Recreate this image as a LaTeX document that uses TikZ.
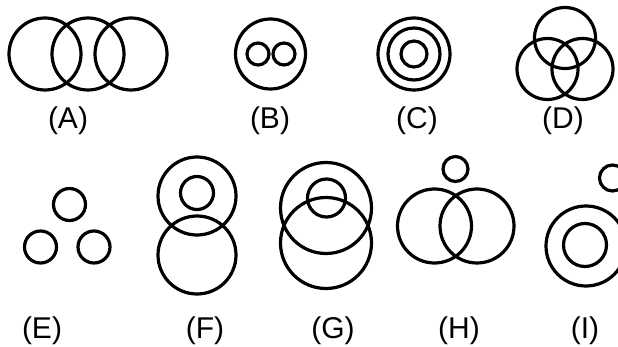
\documentclass[tikz,border=0pt]{standalone}
\usepackage{fontspec}
\setmainfont{Liberation Sans}
\begin{document}
\begin{tikzpicture}[x=1pt, y=-1pt,
    ring/.style={draw=black, line width=3.2pt},
    lbl/.style={font=\fontsize{30}{34}\selectfont, text=black, inner sep=0pt},
]
\clip (0,0) rectangle (618,347);
% (A) three in a row
\draw[ring] (45,54) circle[radius=36pt];
\draw[ring] (88,54) circle[radius=36pt];
\draw[ring] (131,54) circle[radius=36pt];

% (B) two inside one
\draw[ring] (270.5,54) circle[radius=35pt];
\draw[ring] (258,54) circle[radius=11pt];
\draw[ring] (284,54) circle[radius=11pt];

% (C) concentric
\draw[ring] (414,54) circle[radius=36pt];
\draw[ring] (414,54) circle[radius=26pt];
\draw[ring] (414,54) circle[radius=13pt];

% (D) three overlapping
\draw[ring] (565,38) circle[radius=30.5pt];
\draw[ring] (547.5,69) circle[radius=30.5pt];
\draw[ring] (582.5,69) circle[radius=30.5pt];

% (E) three apart
\draw[ring] (69.5,204.5) circle[radius=16pt];
\draw[ring] (40.5,247) circle[radius=16pt];
\draw[ring] (94,247) circle[radius=16pt];

% (F) two touching, one inside
\draw[ring] (197,196) circle[radius=39pt];
\draw[ring] (197,193) circle[radius=16.5pt];
\draw[ring] (197,255) circle[radius=39pt];

% (G) two overlapping, one in both
\draw[ring] (326,208) circle[radius=45.5pt];
\draw[ring] (326,243) circle[radius=45.5pt];
\draw[ring] (326.5,198) circle[radius=19pt];

% (H) two overlapping, one apart
\draw[ring] (434.5,226) circle[radius=37pt];
\draw[ring] (477,226) circle[radius=37pt];
\draw[ring] (455.5,169) circle[radius=12.5pt];

% (I) one inside, one apart
\draw[ring] (586,246) circle[radius=40pt];
\draw[ring] (585,245) circle[radius=21.5pt];
\draw[ring] (612.5,178) circle[radius=13pt];

% Labels
\node[lbl] (labA) at (68,121) {(A)};
\node[lbl] (labB) at (270,121) {(B)};
\node[lbl] (labC) at (417,121) {(C)};
\node[lbl] (labD) at (563,121) {(D)};
\node[lbl] (labE) at (42,331) {(E)};
\node[lbl] (labF) at (205,331) {(F)};
\node[lbl] (labG) at (333,331) {(G)};
\node[lbl] (labH) at (459,331) {(H)};
\node[lbl] (labI) at (585,331) {(I)};
\end{tikzpicture}
\end{document}
